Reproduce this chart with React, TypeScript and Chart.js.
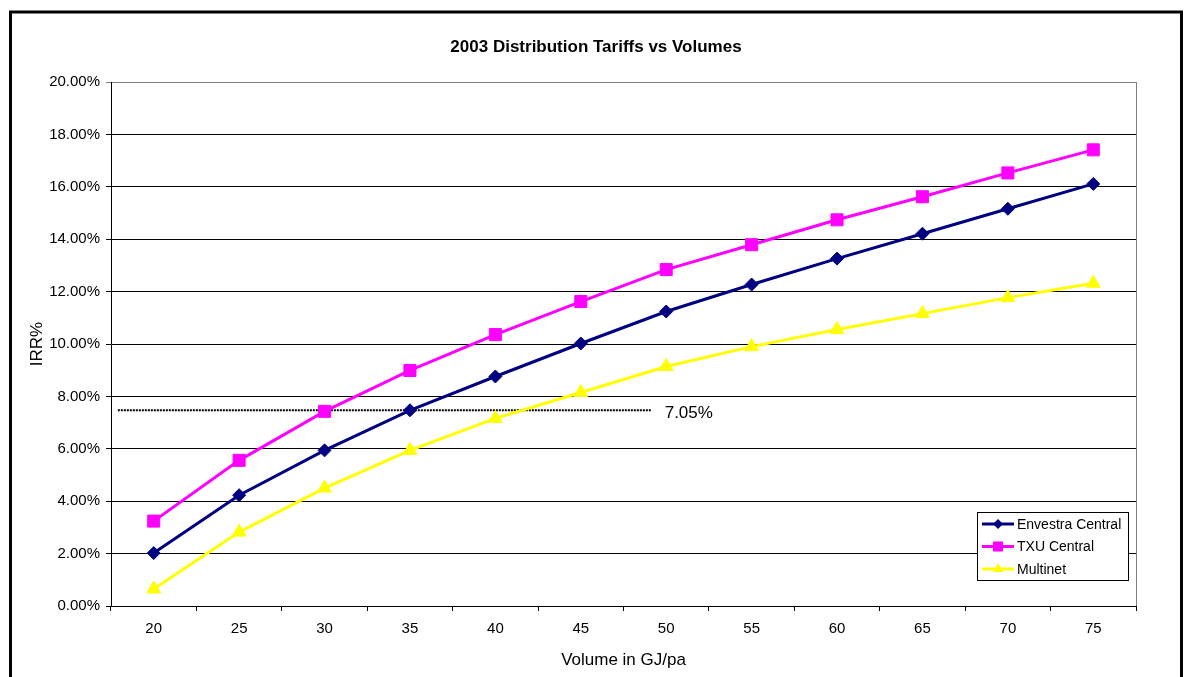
import React, { useEffect, useRef } from "react";
import { Chart, registerables } from "chart.js";

Chart.register(...registerables);

const volumes = ["20", "25", "30", "35", "40", "45", "50", "55", "60", "65", "70", "75"];
const envestraCentral = [2.02, 4.23, 5.94, 7.47, 8.76, 10.02, 11.24, 12.27, 13.26, 14.21, 15.16, 16.11];
const txuCentral = [3.24, 5.56, 7.43, 8.99, 10.36, 11.62, 12.84, 13.79, 14.74, 15.62, 16.53, 17.41];
const multinet = [0.65, 2.82, 4.5, 5.94, 7.16, 8.15, 9.14, 9.9, 10.55, 11.16, 11.77, 12.32];
const seriesNames = ["Envestra Central", "TXU Central", "Multinet"];
const seriesColors = ["#000080", "#FF00FF", "#FFFF00"];
const seriesMarkers = ["rectRot", "rect", "triangle"];
const seriesRadius = [6.5, 8.5, 8];
const chartTitle = "2003 Distribution Tariffs vs Volumes";
const thresholdValue = 7.47;
const thresholdLabel = "7.05%";
const thresholdFrom = -0.42;
const thresholdTo = 5.83;
const yMin = 0;
const yMax = 20;
const yStep = 2;

const FONT = 'Arial, "Liberation Sans", sans-serif';

const decorPlugin = {
  id: "decor",
  beforeDraw(chart: any) {
    const ctx = chart.ctx;
    ctx.save();
    ctx.fillStyle = "#ffffff";
    ctx.fillRect(0, 0, chart.width, chart.height);
    ctx.strokeStyle = "#000000";
    ctx.lineWidth = 3;
    ctx.strokeRect(10.5, 12, 1171, 800);
    ctx.fillStyle = "#000000";
    ctx.font = "bold 17px " + FONT;
    ctx.textAlign = "center";
    ctx.textBaseline = "middle";
    ctx.fillText(chartTitle, 596, 47);
    ctx.restore();
  },
  beforeDatasetsDraw(chart: any) {
    const ctx = chart.ctx;
    const { chartArea, scales } = chart;
    ctx.save();
    ctx.strokeStyle = "#808080";
    ctx.lineWidth = 1;
    ctx.beginPath();
    ctx.moveTo(Math.round(chartArea.right) + 0.5, chartArea.top);
    ctx.lineTo(Math.round(chartArea.right) + 0.5, chartArea.bottom);
    ctx.stroke();
    const x = scales.x;
    const y = scales.y;
    const yy = y.getPixelForValue(thresholdValue);
    const step = x.getPixelForValue(1) - x.getPixelForValue(0);
    const x0 = x.getPixelForValue(0) + step * thresholdFrom;
    const x1 = x.getPixelForValue(0) + step * thresholdTo;
    ctx.strokeStyle = "#000000";
    ctx.lineWidth = 2;
    ctx.setLineDash([2, 1]);
    ctx.beginPath();
    ctx.moveTo(x0, yy);
    ctx.lineTo(x1, yy);
    ctx.stroke();
    ctx.setLineDash([]);
    ctx.fillStyle = "#000000";
    ctx.font = "17px " + FONT;
    ctx.textBaseline = "middle";
    ctx.textAlign = "left";
    ctx.fillText(thresholdLabel, x1 + 13, yy + 3);
    ctx.restore();
  },
  afterDraw(chart: any) {
    const ctx = chart.ctx;
    const { chartArea } = chart;
    const bw = 151;
    const bh = 68;
    const bx = Math.round(chartArea.right) - 8 - bw;
    const by = Math.round(chartArea.bottom) - 26 - bh;
    ctx.save();
    ctx.fillStyle = "#ffffff";
    ctx.fillRect(bx, by, bw, bh);
    ctx.strokeStyle = "#000000";
    ctx.lineWidth = 1;
    ctx.strokeRect(bx + 0.5, by + 0.5, bw, bh);
    ctx.font = "14px " + FONT;
    ctx.textBaseline = "middle";
    ctx.textAlign = "left";
    for (let i = 0; i < seriesNames.length; i++) {
      const cy = by + 12 + i * 22.5;
      ctx.strokeStyle = seriesColors[i];
      ctx.lineWidth = 3;
      ctx.beginPath();
      ctx.moveTo(bx + 5, cy);
      ctx.lineTo(bx + 37, cy);
      ctx.stroke();
      ctx.fillStyle = seriesColors[i];
      const mx = bx + 21;
      ctx.beginPath();
      if (seriesMarkers[i] === "rectRot") {
        const r = 5;
        ctx.moveTo(mx, cy - r);
        ctx.lineTo(mx + r, cy);
        ctx.lineTo(mx, cy + r);
        ctx.lineTo(mx - r, cy);
      } else if (seriesMarkers[i] === "rect") {
        ctx.rect(mx - 5, cy - 5, 10, 10);
      } else {
        const r = 6;
        ctx.moveTo(mx, cy - r);
        ctx.lineTo(mx + r * 0.866, cy + r / 2);
        ctx.lineTo(mx - r * 0.866, cy + r / 2);
      }
      ctx.closePath();
      ctx.fill();
      ctx.fillStyle = "#000000";
      ctx.fillText(seriesNames[i], bx + 40, cy + 1);
    }
    ctx.restore();
  },
};

export default function App() {
  const ref = useRef<HTMLCanvasElement | null>(null);
  useEffect(() => {
    if (!ref.current) return;
    const data = [envestraCentral, txuCentral, multinet];
    const chart = new Chart(ref.current, {
      type: "line",
      data: {
        labels: volumes,
        datasets: data.map((d, i) => ({
          label: seriesNames[i],
          data: d,
          borderColor: seriesColors[i],
          backgroundColor: seriesColors[i],
          pointBackgroundColor: seriesColors[i],
          pointBorderColor: seriesColors[i],
          pointBorderWidth: 1,
          pointStyle: seriesMarkers[i] as any,
          pointRadius: seriesRadius[i],
          borderWidth: 3,
          tension: 0,
          fill: false,
        })),
      },
      options: {
        responsive: false,
        animation: false,
        devicePixelRatio: 1,
        layout: { padding: { left: 0, right: 51, top: 82, bottom: 0 } },
        plugins: {
          legend: { display: false },
          tooltip: { enabled: false },
          title: { display: false },
        },
        scales: {
          x: {
            type: "category",
            offset: true,
            grid: {
              offset: true,
              drawOnChartArea: false,
              drawTicks: true,
              tickLength: 5,
              color: "#000000",
            },
            border: { color: "#000000", width: 1 },
            ticks: {
              color: "#000000",
              font: { family: FONT, size: 15 },
              padding: 9,
              maxRotation: 0,
            },
            title: {
              display: true,
              text: "Volume in GJ/pa",
              color: "#000000",
              font: { family: FONT, size: 17 },
              padding: { top: 0, bottom: 6 },
            },
            afterFit: (s: any) => {
              s.height = 71;
            },
          },
          y: {
            min: yMin,
            max: yMax,
            grid: {
              color: (c: any) => (c.tick && c.tick.value === yMax ? "#808080" : "#000000"),
              lineWidth: 1,
              drawTicks: true,
              tickLength: 5,
            },
            border: { color: "#000000", width: 1 },
            ticks: {
              stepSize: yStep,
              color: "#000000",
              font: { family: FONT, size: 15 },
              padding: 6,
              callback: (v: any) => Number(v).toFixed(2) + "%",
            },
            title: {
              display: true,
              text: "IRR%",
              color: "#000000",
              font: { family: FONT, size: 17 },
              padding: { top: 27, bottom: 0 },
            },
            afterFit: (s: any) => {
              s.width = 111;
            },
          },
        },
      },
      plugins: [decorPlugin],
    });
    return () => chart.destroy();
  }, []);
  return (
    <div style={{ position: "absolute", left: 0, top: 0, width: 1187, height: 677 }}>
      <canvas ref={ref} width={1187} height={677} style={{ width: 1187, height: 677, display: "block" }} />
    </div>
  );
}
